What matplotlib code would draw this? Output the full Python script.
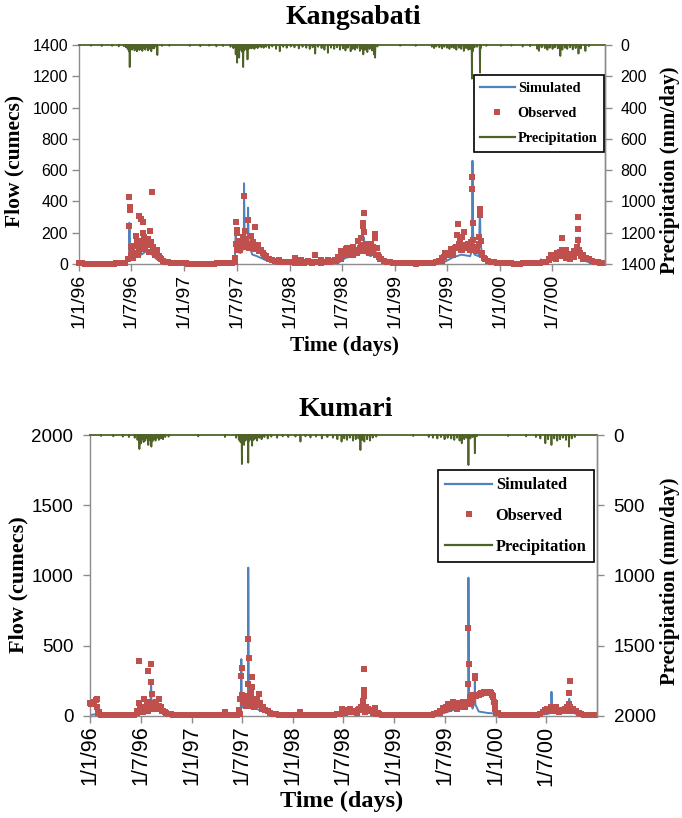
import matplotlib
matplotlib.use("Agg")
import matplotlib.pyplot as plt
from matplotlib.lines import Line2D
import pandas as pd

START, END = "1996-01-01", "2000-12-31"

tick_dates = ["1996-01-01", "1996-07-01", "1997-01-01", "1997-07-01", "1998-01-01",
              "1998-07-01", "1999-01-01", "1999-07-01", "2000-01-01", "2000-07-01"]
tick_labels = ["1/1/96", "1/7/96", "1/1/97", "1/7/97", "1/1/98",
               "1/7/98", "1/1/99", "1/7/99", "1/1/00", "1/7/00"]

# ---------------- Kangsabati ----------------
# observed flow every 10 days from 1 Jan 1996 (cumecs)
kang_obs_10day = [
    6, 4, 3, 3, 2, 2, 2, 2, 2, 2, 3, 3, 3, 4, 4, 5, 8,
    35, 110, 70, 130, 85, 150, 95, 120, 140, 90, 65, 40, 22,
    14, 10, 8, 6, 5, 4, 4,
    4, 3, 3, 3, 2, 2, 2, 2, 3, 3, 3, 4, 4, 5, 5, 6, 8, 12,
    90, 140, 110, 150, 100, 130, 95, 120, 80, 70, 50,
    35, 25, 18, 15, 12, 14, 10, 12,
    10, 8, 14, 9, 7, 12, 10, 8, 15, 12, 9, 14, 10, 12, 18, 25,
    45, 80, 60, 100, 70, 110, 85, 150, 120, 90, 130, 100, 75, 60, 45, 30,
    20, 14, 10, 8,
    7, 6, 5, 5, 4, 4, 4, 3, 4, 4, 5, 5, 6, 8, 10, 18,
    40, 70, 60, 95, 80, 110, 130, 90, 120, 100, 140, 110, 90, 130, 60,
    35, 22, 15, 10, 8, 6,
    5, 5, 4, 4, 3, 3, 3, 4, 5, 4, 5, 5, 6, 8, 10, 15,
    30, 55, 40, 70, 50, 60, 90, 45, 65, 80, 110, 70, 55, 40, 30,
    20, 14, 10, 8, 6,
]

# additional observed readings during flood events (date, cumecs)
kang_obs_events = [
    ("1996-06-22", 243), ("1996-06-24", 430), ("1996-06-25", 362), ("1996-06-26", 345),
    ("1996-06-28", 60), ("1996-07-02", 95), ("1996-07-06", 40), ("1996-07-11", 117),
    ("1996-07-16", 181), ("1996-07-21", 150), ("1996-07-24", 60), ("1996-07-27", 305),
    ("1996-07-30", 120), ("1996-08-03", 288), ("1996-08-06", 140), ("1996-08-09", 196),
    ("1996-08-10", 271), ("1996-08-14", 175), ("1996-08-18", 100), ("1996-08-22", 130),
    ("1996-08-27", 160), ("1996-08-31", 75), ("1996-09-05", 209), ("1996-09-10", 458),
    ("1996-09-14", 110), ("1996-09-18", 80), ("1996-09-22", 55), ("1996-09-29", 90),
    ("1996-10-04", 50), ("1996-10-12", 30),
    ("1997-06-26", 40), ("1997-06-28", 130), ("1997-06-30", 271), ("1997-07-02", 196),
    ("1997-07-04", 217), ("1997-07-07", 120), ("1997-07-10", 150), ("1997-07-13", 90),
    ("1997-07-17", 110), ("1997-07-21", 140), ("1997-07-24", 170), ("1997-07-27", 437),
    ("1997-07-29", 211), ("1997-08-01", 160), ("1997-08-05", 130), ("1997-08-10", 283),
    ("1997-08-13", 120), ("1997-08-19", 179), ("1997-08-24", 110), ("1997-08-28", 140),
    ("1997-09-02", 236), ("1997-09-06", 100), ("1997-09-12", 120), ("1997-09-18", 80),
    ("1997-09-25", 90), ("1997-10-03", 60), ("1997-10-12", 45), ("1997-10-20", 30),
    ("1997-11-25", 25), ("1998-01-20", 36), ("1998-02-10", 23), ("1998-03-05", 22),
    ("1998-04-01", 56), ("1998-04-20", 25), ("1998-05-15", 23), ("1998-06-10", 20),
    ("1998-06-19", 47), ("1998-06-28", 30), ("1998-07-06", 70), ("1998-07-16", 96),
    ("1998-07-24", 60), ("1998-08-01", 85), ("1998-08-09", 55), ("1998-08-16", 90),
    ("1998-08-24", 70), ("1998-09-01", 100), ("1998-09-05", 164), ("1998-09-09", 80),
    ("1998-09-13", 243), ("1998-09-14", 264), ("1998-09-17", 324), ("1998-09-18", 207),
    ("1998-09-22", 120), ("1998-09-28", 90), ("1998-10-05", 70), ("1998-10-11", 126),
    ("1998-10-18", 110), ("1998-10-25", 192), ("1998-10-26", 164), ("1998-10-30", 100),
    ("1998-11-05", 60), ("1998-11-12", 35),
    ("1999-06-13", 20), ("1999-06-22", 45), ("1999-06-30", 70), ("1999-07-08", 55),
    ("1999-07-15", 90), ("1999-07-22", 60), ("1999-07-29", 100), ("1999-08-04", 183),
    ("1999-08-07", 258), ("1999-08-10", 110), ("1999-08-14", 149), ("1999-08-18", 90),
    ("1999-08-21", 170), ("1999-08-26", 120), ("1999-08-31", 207), ("1999-09-05", 100),
    ("1999-09-12", 130), ("1999-09-18", 90), ("1999-09-24", 110), ("1999-09-27", 480),
    ("1999-09-28", 558), ("1999-09-30", 264), ("1999-10-01", 153), ("1999-10-05", 100),
    ("1999-10-10", 80), ("1999-10-15", 110), ("1999-10-21", 171), ("1999-10-23", 313),
    ("1999-10-24", 351), ("1999-10-27", 150), ("1999-10-31", 70), ("1999-11-06", 40),
    ("2000-06-20", 25), ("2000-06-28", 45), ("2000-07-06", 60), ("2000-07-14", 35),
    ("2000-07-22", 50), ("2000-07-28", 75), ("2000-08-03", 164), ("2000-08-04", 90),
    ("2000-08-09", 60), ("2000-08-16", 40), ("2000-08-24", 55), ("2000-09-01", 35),
    ("2000-09-08", 60), ("2000-09-15", 45), ("2000-09-21", 80), ("2000-09-25", 110),
    ("2000-09-27", 153), ("2000-09-28", 224), ("2000-09-30", 303), ("2000-10-03", 90),
    ("2000-10-08", 50), ("2000-10-15", 30),
]

# simulated flow (date, cumecs)
kang_sim = [
    ("1996-01-01", 5), ("1996-01-03", 20), ("1996-01-10", 3), ("1996-03-01", 2),
    ("1996-05-01", 2), ("1996-06-10", 10), ("1996-06-20", 30), ("1996-06-23", 50),
    ("1996-06-24", 264), ("1996-06-26", 60), ("1996-07-05", 40), ("1996-07-20", 70),
    ("1996-08-05", 60), ("1996-08-20", 80), ("1996-09-05", 70), ("1996-09-27", 30),
    ("1996-09-30", 90), ("1996-10-03", 40), ("1996-10-20", 15), ("1996-12-01", 4),
    ("1997-03-01", 2), ("1997-06-01", 3), ("1997-06-25", 15), ("1997-06-28", 230),
    ("1997-07-01", 80), ("1997-07-15", 70), ("1997-07-26", 100), ("1997-07-27", 516),
    ("1997-07-29", 150), ("1997-08-08", 90), ("1997-08-10", 360), ("1997-08-12", 120),
    ("1997-08-25", 60), ("1997-09-10", 50), ("1997-10-10", 25), ("1997-11-15", 8),
    ("1998-01-15", 5), ("1998-04-01", 5), ("1998-06-20", 8), ("1998-07-15", 40),
    ("1998-08-15", 50), ("1998-09-14", 80), ("1998-09-16", 170), ("1998-09-19", 70),
    ("1998-10-10", 50), ("1998-10-24", 70), ("1998-10-25", 120), ("1998-10-28", 50),
    ("1998-11-20", 10), ("1999-01-15", 3), ("1999-05-18", 3), ("1999-05-20", 20),
    ("1999-05-22", 3), ("1999-06-20", 10), ("1999-07-20", 40), ("1999-08-20", 60),
    ("1999-09-20", 50), ("1999-09-26", 90), ("1999-09-28", 660), ("1999-09-30", 200),
    ("1999-10-05", 60), ("1999-10-20", 50), ("1999-10-24", 356), ("1999-10-26", 120),
    ("1999-11-05", 30), ("1999-12-01", 8), ("2000-03-01", 3), ("2000-05-20", 3),
    ("2000-05-22", 30), ("2000-05-24", 3), ("2000-07-10", 30), ("2000-08-03", 90),
    ("2000-08-20", 40), ("2000-09-28", 80), ("2000-09-30", 170), ("2000-10-03", 50),
    ("2000-10-15", 25), ("2000-11-10", 8), ("2000-12-31", 3),
]

# daily precipitation on rain days (date, mm/day)
kang_rain = [
    ("1996-02-12", 5), ("1996-03-20", 7), ("1996-04-25", 6), ("1996-05-18", 9),
    ("1996-06-05", 8), ("1996-06-12", 15), ("1996-06-18", 25), ("1996-06-22", 40),
    ("1996-06-25", 141), ("1996-06-28", 20), ("1996-07-03", 30), ("1996-07-08", 18),
    ("1996-07-12", 35), ("1996-07-16", 22), ("1996-07-20", 40), ("1996-07-25", 28),
    ("1996-07-29", 32), ("1996-08-03", 25), ("1996-08-08", 38), ("1996-08-12", 20),
    ("1996-08-18", 30), ("1996-08-22", 15), ("1996-08-27", 35), ("1996-09-02", 25),
    ("1996-09-08", 40), ("1996-09-12", 18), ("1996-09-18", 22), ("1996-09-24", 10),
    ("1996-09-29", 64), ("1996-10-15", 6), ("1996-11-10", 5), ("1997-01-20", 6),
    ("1997-02-25", 8), ("1997-03-28", 5), ("1997-04-22", 9), ("1997-05-15", 7),
    ("1997-06-10", 12), ("1997-06-20", 20), ("1997-06-28", 60), ("1997-07-03", 113),
    ("1997-07-06", 40), ("1997-07-10", 81), ("1997-07-14", 30), ("1997-07-18", 25),
    ("1997-07-21", 45), ("1997-07-24", 141), ("1997-07-27", 35), ("1997-07-31", 20),
    ("1997-08-04", 30), ("1997-08-08", 92), ("1997-08-12", 25), ("1997-08-16", 15),
    ("1997-08-21", 22), ("1997-08-26", 18), ("1997-09-01", 25), ("1997-09-06", 12),
    ("1997-09-12", 20), ("1997-09-18", 10), ("1997-09-25", 15), ("1997-10-03", 18),
    ("1997-10-12", 12), ("1997-10-22", 20), ("1997-11-02", 10), ("1997-11-15", 25),
    ("1997-11-28", 40), ("1997-12-10", 12), ("1997-12-22", 18), ("1998-01-05", 10),
    ("1998-01-18", 15), ("1998-02-02", 22), ("1998-02-15", 12), ("1998-02-28", 18),
    ("1998-03-12", 25), ("1998-03-22", 15), ("1998-03-31", 55), ("1998-04-10", 12),
    ("1998-04-22", 20), ("1998-05-02", 30), ("1998-05-14", 50), ("1998-05-25", 18),
    ("1998-06-05", 25), ("1998-06-15", 15), ("1998-06-25", 30), ("1998-07-05", 22),
    ("1998-07-14", 35), ("1998-07-22", 18), ("1998-08-01", 40), ("1998-08-08", 25),
    ("1998-08-16", 30), ("1998-08-24", 20), ("1998-09-02", 38), ("1998-09-09", 25),
    ("1998-09-14", 60), ("1998-09-20", 30), ("1998-09-28", 45), ("1998-10-06", 25),
    ("1998-10-14", 35), ("1998-10-21", 60), ("1998-10-25", 81), ("1998-11-02", 10),
    ("1999-01-20", 5), ("1999-03-15", 6), ("1999-05-10", 12), ("1999-05-18", 20),
    ("1999-05-25", 10), ("1999-06-05", 15), ("1999-06-14", 22), ("1999-06-22", 12),
    ("1999-07-01", 18), ("1999-07-10", 25), ("1999-07-18", 15), ("1999-07-26", 20),
    ("1999-08-03", 30), ("1999-08-12", 18), ("1999-08-20", 25), ("1999-08-29", 38),
    ("1999-09-06", 20), ("1999-09-14", 30), ("1999-09-20", 25), ("1999-09-26", 215),
    ("1999-09-29", 40), ("1999-10-05", 15), ("1999-10-14", 12), ("1999-10-24", 177),
    ("1999-10-27", 20), ("1999-11-15", 6), ("2000-01-05", 6), ("2000-02-10", 5),
    ("2000-03-20", 10), ("2000-04-15", 8), ("2000-05-10", 25), ("2000-05-16", 38),
    ("2000-05-25", 15), ("2000-06-05", 20), ("2000-06-14", 30), ("2000-06-22", 18),
    ("2000-07-02", 25), ("2000-07-10", 15), ("2000-07-20", 22), ("2000-07-29", 70),
    ("2000-08-05", 30), ("2000-08-14", 18), ("2000-08-22", 25), ("2000-09-01", 15),
    ("2000-09-10", 28), ("2000-09-20", 20), ("2000-09-30", 55), ("2000-10-08", 22),
    ("2000-10-24", 38), ("2000-11-05", 8),
]

# ---------------- Kumari ----------------
kum_obs_10day = [
    88, 92, 110, 20, 5, 4, 3, 3, 2, 2, 2, 2, 2, 3, 3, 4, 6,
    20, 45, 25, 60, 35, 85, 50, 45, 70, 30, 25, 15, 10,
    7, 5, 4, 3, 3, 2, 2,
    2, 2, 2, 2, 2, 2, 2, 2, 2, 2, 3, 3, 3, 4, 4, 5, 8, 15,
    90, 140, 70, 120, 60, 100, 75, 50, 40, 30, 20,
    12, 9, 7, 6, 5, 5, 4, 4,
    4, 3, 3, 3, 3, 2, 2, 3, 3, 3, 4, 4, 5, 6, 8, 10,
    15, 30, 20, 40, 25, 35, 20, 50, 40, 25, 45, 30, 20, 15, 10, 8,
    6, 5, 4, 3,
    3, 2, 2, 2, 2, 2, 2, 2, 2, 3, 3, 3, 4, 6, 10, 20,
    30, 55, 40, 70, 60, 85, 50, 75, 60, 90, 80, 130, 150, 150, 145,
    155, 165, 170, 162, 140, 90,
    20, 6, 4, 3, 3, 2, 2, 2, 2, 3, 3, 3, 4, 5, 8, 12,
    25, 40, 30, 55, 35, 60, 40, 30, 50, 35, 60, 45, 30, 20, 12,
    8, 6, 5, 4, 4,
]

kum_obs_events = [
    ("1996-01-05", 85), ("1996-01-15", 95), ("1996-01-25", 118), ("1996-01-28", 60),
    ("1996-02-02", 25),
    ("1996-06-20", 30), ("1996-06-26", 88), ("1996-06-27", 392), ("1996-07-02", 40),
    ("1996-07-08", 60), ("1996-07-15", 118), ("1996-07-20", 50), ("1996-07-24", 80),
    ("1996-07-28", 321), ("1996-07-31", 100), ("1996-08-04", 70), ("1996-08-07", 238),
    ("1996-08-09", 368), ("1996-08-10", 152), ("1996-08-14", 90), ("1996-08-19", 60),
    ("1996-08-25", 100), ("1996-08-30", 45), ("1996-09-05", 118), ("1996-09-12", 60),
    ("1996-09-20", 35), ("1996-10-01", 20),
    ("1997-05-01", 28), ("1997-06-22", 40), ("1997-06-26", 120), ("1997-06-28", 283),
    ("1997-06-30", 337), ("1997-07-03", 150), ("1997-07-08", 90), ("1997-07-12", 130),
    ("1997-07-16", 70), ("1997-07-20", 110), ("1997-07-22", 224), ("1997-07-23", 545),
    ("1997-07-25", 413), ("1997-07-28", 140), ("1997-08-01", 100), ("1997-08-04", 160),
    ("1997-08-07", 203), ("1997-08-08", 274), ("1997-08-12", 120), ("1997-08-18", 80),
    ("1997-08-24", 110), ("1997-09-01", 156), ("1997-09-06", 90), ("1997-09-14", 60),
    ("1997-09-24", 40), ("1998-01-27", 26),
    ("1998-06-28", 50), ("1998-07-10", 30), ("1998-07-25", 45), ("1998-08-10", 35),
    ("1998-08-25", 40), ("1998-09-02", 64), ("1998-09-12", 102), ("1998-09-13", 141),
    ("1998-09-14", 181), ("1998-09-15", 330), ("1998-09-20", 60), ("1998-10-01", 40),
    ("1998-10-12", 35), ("1998-10-24", 57), ("1998-11-05", 20),
    ("1999-06-15", 20), ("1999-06-25", 40), ("1999-07-05", 60), ("1999-07-12", 80),
    ("1999-07-18", 50), ("1999-07-30", 99), ("1999-08-06", 70), ("1999-08-14", 60),
    ("1999-08-22", 88), ("1999-08-30", 75), ("1999-09-06", 95), ("1999-09-14", 60),
    ("1999-09-20", 100), ("1999-09-24", 229), ("1999-09-25", 623), ("1999-09-26", 371),
    ("1999-09-29", 120), ("1999-10-03", 80), ("1999-10-08", 110), ("1999-10-13", 130),
    ("1999-10-18", 283), ("1999-10-19", 270), ("1999-10-22", 140), ("1999-10-27", 145),
    ("1999-11-01", 150), ("1999-11-06", 155), ("1999-11-11", 160), ("1999-11-16", 163),
    ("1999-11-21", 166), ("1999-11-26", 168), ("1999-12-01", 170), ("1999-12-06", 170),
    ("1999-12-11", 168), ("1999-12-16", 162), ("1999-12-20", 150), ("1999-12-24", 130),
    ("1999-12-27", 100), ("1999-12-29", 70), ("1999-12-31", 45), ("2000-01-03", 20),
    ("2000-06-25", 30), ("2000-07-05", 45), ("2000-07-15", 40), ("2000-07-20", 64),
    ("2000-07-28", 35), ("2000-08-06", 30), ("2000-08-15", 25), ("2000-08-25", 30),
    ("2000-09-05", 35), ("2000-09-15", 60), ("2000-09-20", 81), ("2000-09-21", 163),
    ("2000-09-23", 250), ("2000-09-26", 60), ("2000-10-05", 30),
]

kum_sim = [
    ("1996-01-01", 5), ("1996-01-20", 10), ("1996-02-05", 3), ("1996-05-01", 2),
    ("1996-06-20", 10), ("1996-06-27", 100), ("1996-06-29", 20), ("1996-07-20", 40),
    ("1996-08-06", 80), ("1996-08-08", 240), ("1996-08-10", 60), ("1996-09-01", 40),
    ("1996-09-20", 15), ("1996-11-01", 4), ("1997-06-01", 3), ("1997-06-27", 40),
    ("1997-06-29", 403), ("1997-07-01", 60), ("1997-07-20", 60), ("1997-07-23", 150),
    ("1997-07-24", 1055), ("1997-07-26", 150), ("1997-08-05", 80), ("1997-08-07", 200),
    ("1997-08-09", 70), ("1997-09-01", 40), ("1997-10-01", 20), ("1997-11-01", 18),
    ("1997-12-01", 15), ("1998-01-15", 8), ("1998-05-01", 4), ("1998-07-01", 10),
    ("1998-08-15", 25), ("1998-09-13", 40), ("1998-09-14", 110), ("1998-09-16", 30),
    ("1998-10-20", 15), ("1998-12-01", 5), ("1999-05-01", 3), ("1999-07-01", 20),
    ("1999-08-15", 50), ("1999-09-10", 60), ("1999-09-24", 100), ("1999-09-25", 984),
    ("1999-09-27", 120), ("1999-10-10", 50), ("1999-10-17", 100), ("1999-10-18", 245),
    ("1999-10-20", 80), ("1999-11-01", 30), ("1999-12-01", 20), ("1999-12-31", 15),
    ("2000-02-01", 4), ("2000-06-26", 10), ("2000-06-28", 64), ("2000-06-30", 10),
    ("2000-07-19", 20), ("2000-07-20", 170), ("2000-07-22", 25), ("2000-08-20", 20),
    ("2000-09-21", 40), ("2000-09-22", 120), ("2000-09-25", 30), ("2000-10-20", 10),
    ("2000-12-31", 3),
]

kum_rain = [
    ("1996-02-10", 8), ("1996-03-25", 10), ("1996-04-28", 12), ("1996-05-20", 15),
    ("1996-06-10", 20), ("1996-06-20", 35), ("1996-06-27", 100), ("1996-07-02", 60),
    ("1996-07-06", 30), ("1996-07-12", 50), ("1996-07-18", 40), ("1996-07-24", 25),
    ("1996-07-29", 71), ("1996-08-03", 35), ("1996-08-09", 83), ("1996-08-13", 45),
    ("1996-08-18", 30), ("1996-08-24", 40), ("1996-08-30", 20), ("1996-09-05", 35),
    ("1996-09-12", 25), ("1996-09-20", 30), ("1996-09-28", 15), ("1996-10-10", 12),
    ("1997-01-25", 10), ("1997-05-01", 15), ("1997-06-10", 20), ("1997-06-20", 35),
    ("1997-06-26", 50), ("1997-07-01", 207), ("1997-07-05", 60), ("1997-07-09", 71),
    ("1997-07-14", 40), ("1997-07-19", 30), ("1997-07-24", 197), ("1997-07-28", 40),
    ("1997-08-02", 30), ("1997-08-07", 76), ("1997-08-12", 35), ("1997-08-18", 25),
    ("1997-08-25", 40), ("1997-09-02", 20), ("1997-09-10", 30), ("1997-09-20", 15),
    ("1997-10-02", 25), ("1997-10-15", 12), ("1997-11-05", 20), ("1997-11-25", 10),
    ("1997-12-15", 15), ("1998-01-10", 12), ("1998-01-28", 47), ("1998-02-15", 10),
    ("1998-03-05", 18), ("1998-03-25", 12), ("1998-04-15", 25), ("1998-05-05", 15),
    ("1998-05-25", 20), ("1998-06-10", 30), ("1998-06-25", 47), ("1998-07-05", 25),
    ("1998-07-15", 35), ("1998-07-25", 20), ("1998-08-05", 40), ("1998-08-15", 30),
    ("1998-08-25", 25), ("1998-09-01", 107), ("1998-09-08", 35), ("1998-09-15", 47),
    ("1998-09-25", 30), ("1998-10-05", 40), ("1998-10-15", 20), ("1998-10-28", 12),
    ("1999-03-10", 8), ("1999-05-05", 15), ("1999-05-20", 20), ("1999-06-05", 25),
    ("1999-06-18", 15), ("1999-07-01", 30), ("1999-07-12", 20), ("1999-07-25", 25),
    ("1999-08-05", 35), ("1999-08-15", 20), ("1999-08-24", 40), ("1999-09-01", 59),
    ("1999-09-10", 30), ("1999-09-18", 20), ("1999-09-25", 214), ("1999-10-02", 25),
    ("1999-10-10", 15), ("1999-10-18", 130), ("1999-10-25", 10), ("2000-02-15", 8),
    ("2000-04-20", 10), ("2000-05-25", 15), ("2000-06-10", 25), ("2000-06-28", 59),
    ("2000-07-08", 30), ("2000-07-20", 71), ("2000-07-30", 25), ("2000-08-10", 40),
    ("2000-08-20", 30), ("2000-08-30", 20), ("2000-09-10", 35), ("2000-09-21", 83),
    ("2000-10-01", 25), ("2000-10-12", 15),
]

# ---------------- styling ----------------
SIM_C = "#4F81BD"
OBS_C = "#C0504D"
RAIN_C = "#4F6228"
AXIS_C = "#8C8C8C"
SERIF = ["Liberation Serif", "DejaVu Serif"]
SANS = ["Liberation Sans", "DejaVu Sans"]


def draw_panel(rect, title, title_xy, obs_10day, obs_events, sim, rain,
               flow_max, flow_step, rain_max, rain_step, fs):
    ax = fig.add_axes(rect)
    ax2 = ax.twinx()

    # simulated flow
    sim_df = pd.DataFrame(sim, columns=["date", "q"])
    sim_df["date"] = pd.to_datetime(sim_df["date"])
    sim_df = sim_df.sort_values("date")
    ax.plot(sim_df["date"], sim_df["q"], color=SIM_C, lw=1.4, zorder=2)

    # observed flow: regular 10-day readings plus event readings
    base_dates = pd.date_range(START, periods=len(obs_10day), freq="10D")
    ev_dates = pd.to_datetime([d for d, _ in obs_events])
    ev_vals = [v for _, v in obs_events]
    for xs, ys in ((base_dates, obs_10day), (ev_dates, ev_vals)):
        ax.plot(xs, ys, ls="none", marker="s", ms=4.1, mew=0,
                color=OBS_C, zorder=3, clip_on=False)

    # daily precipitation on the inverted secondary axis
    daily = pd.Series(0.0, index=pd.date_range(START, END, freq="D"))
    for d, v in rain:
        daily[pd.Timestamp(d)] = v
    ax2.plot(daily.index, daily.values, color=RAIN_C, lw=1.3, clip_on=False)

    ax.set_xlim(pd.Timestamp(START), pd.Timestamp(END))
    ax.set_ylim(0, flow_max)
    ax2.set_ylim(rain_max, 0)
    ax.set_yticks(range(0, flow_max + 1, flow_step))
    ax2.set_yticks(range(0, rain_max + 1, rain_step))
    ax.set_xticks(pd.to_datetime(tick_dates))
    ax.set_xticklabels(tick_labels, rotation=90, family=SANS, fontsize=fs["xt"])
    for t in ax.get_yticklabels() + ax2.get_yticklabels():
        t.set_family(SANS)
        t.set_fontsize(fs["yt"])

    for a in (ax, ax2):
        a.spines["top"].set_visible(False)
        for s in ("left", "right", "bottom"):
            a.spines[s].set_color(AXIS_C)
            a.spines[s].set_linewidth(1.0)
        a.tick_params(color=AXIS_C, length=5, width=1.0, direction="out",
                      labelcolor="black", pad=2)
    ax.tick_params(axis="y", pad=fs["ypad"])
    ax2.tick_params(axis="y", pad=fs["rpad"])
    ax2.spines["left"].set_visible(False)
    ax2.spines["bottom"].set_visible(False)

    ax.set_ylabel("Flow (cumecs)", family=SERIF, weight="bold", fontsize=fs["lab"])
    ax.yaxis.label.set_va("center")
    ax.yaxis.set_label_coords(fs["ylab_x"], fs["ylab_y"])
    ax2.set_ylabel("Precipitation (mm/day)", family=SERIF, weight="bold",
                   fontsize=fs["rlab"], rotation=90)
    ax2.yaxis.label.set_va("center")
    ax2.yaxis.set_label_coords(fs["rlab_x"], fs["rlab_y"])
    ax.set_xlabel("Time (days)", family=SERIF, weight="bold", fontsize=fs["xlab"])
    ax.xaxis.label.set_va("center")
    ax.xaxis.set_label_coords(fs["xlab_x"], fs["xlab_y"])

    fig.text(title_xy[0], title_xy[1], title, family=SERIF, weight="bold",
             fontsize=20, ha="center", va="center")

    handles = [Line2D([], [], color=SIM_C, lw=1.6),
               Line2D([], [], ls="none", marker="s", ms=3.9, mew=0, color=OBS_C),
               Line2D([], [], color=RAIN_C, lw=1.6)]
    leg = ax2.legend(handles, ["Simulated", "Observed", "Precipitation"],
                     loc="upper right", bbox_to_anchor=fs["leg_anchor"],
                     borderaxespad=0, fancybox=False, framealpha=1,
                     edgecolor="black", handlelength=fs["hl"], handletextpad=0.2,
                     labelspacing=fs["ls"], borderpad=0.45,
                     prop=dict(family=SERIF, weight="bold", size=fs["leg"]))
    leg.get_frame().set_linewidth(1.2)
    return ax, ax2


fig = plt.figure(figsize=(6.82, 8.18), dpi=100)

top_fs = dict(xt=14, yt=11.5, lab=15.5, rlab=15, xlab=15.5, leg=10.4, hl=2.4, ls=0.85,
              ypad=3, rpad=6,
              ylab_x=-0.122, ylab_y=0.47, rlab_x=1.123, rlab_y=0.43,
              xlab_x=0.504, xlab_y=-0.374, leg_anchor=(0.998, 0.863))
bot_fs = dict(xt=15.5, yt=13.5, lab=16, rlab=15, xlab=17.5, leg=11.8, hl=2.9, ls=0.9,
              ypad=7, rpad=7,
              ylab_x=-0.142, ylab_y=0.466, rlab_x=1.144, rlab_y=0.48,
              xlab_x=0.497, xlab_y=-0.304, leg_anchor=(0.994, 0.875))

draw_panel([79 / 682, 1 - 264 / 818, 526 / 682, 219 / 818], "Kangsabati",
           (353 / 682, 1 - 17 / 818), kang_obs_10day, kang_obs_events, kang_sim,
           kang_rain, 1400, 200, 1400, 200, top_fs)
draw_panel([90 / 682, 1 - 715.7 / 818, 507 / 682, 280.7 / 818], "Kumari",
           (346 / 682, 1 - 410 / 818), kum_obs_10day, kum_obs_events, kum_sim,
           kum_rain, 2000, 500, 2000, 500, bot_fs)

fig.savefig("out.png", dpi=100)
